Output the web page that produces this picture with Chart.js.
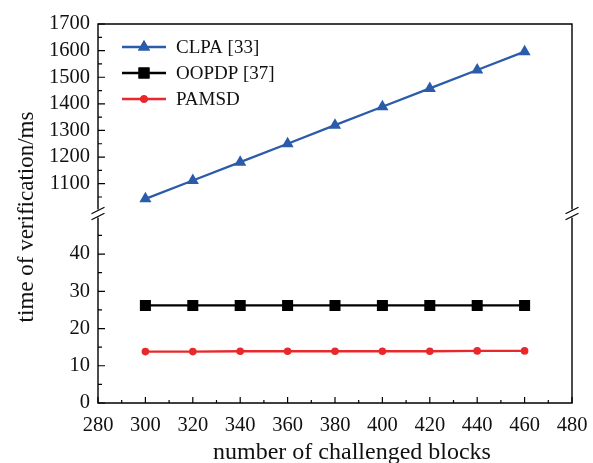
<!DOCTYPE html>
<html>
<head>
<meta charset="utf-8">
<script src="https://cdn.jsdelivr.net/npm/chart.js@4/dist/chart.umd.min.js"></script>
<style>
  html, body { margin: 0; padding: 0; background: #fff; }
  #wrap { width: 593px; height: 463px; }
</style>
</head>
<body>
<div id="wrap"><canvas id="c" width="593" height="463"></canvas></div>
<script>
// data
const blocks = [300, 320, 340, 360, 380, 400, 420, 440, 460];
const clpa = [1043, 1112, 1181, 1250, 1320, 1389, 1458, 1527, 1596];
const oopdp = [26.2, 26.2, 26.2, 26.2, 26.2, 26.2, 26.2, 26.2, 26.2];
const pamsd = [13.8, 13.8, 13.9, 13.9, 13.9, 13.9, 13.9, 14.0, 14.0];

const xTicks = [280, 300, 320, 340, 360, 380, 400, 420, 440, 460, 480];
const xMinor = [290, 310, 330, 350, 370, 390, 410, 430, 450, 470];
const topTicks = [1100, 1200, 1300, 1400, 1500, 1600, 1700];
const topMinor = [1050, 1150, 1250, 1350, 1450, 1550, 1650];
const botTicks = [0, 10, 20, 30, 40];
const botMinor = [5, 15, 25, 35, 45];

const FONT = "'Liberation Serif', 'Times New Roman', serif";
const BLUE = "#2b5caa", RED = "#e8282b", BLACK = "#000";

const series = [
  { label: "CLPA [33]", values: clpa, axis: "yTop", color: BLUE, style: "triangle", r: 7 },
  { label: "OOPDP [37]", values: oopdp, axis: "yBot", color: BLACK, style: "rect", r: 7.8 },
  { label: "PAMSD", values: pamsd, axis: "yBot", color: RED, style: "circle", r: 3.8 }
];

const datasets = series.map(s => ({
  label: s.label,
  data: blocks.map((b, i) => ({ x: b, y: s.values[i] })),
  yAxisID: s.axis,
  borderColor: s.color,
  backgroundColor: s.color,
  borderWidth: 2.3,
  pointStyle: s.style,
  pointRadius: s.r,
  pointBorderWidth: 0,
  pointHoverRadius: s.r,
  tension: 0
}));

function setTicks(list) {
  return scale => { scale.ticks = list.map(v => ({ value: v })); };
}

// frame, inward ticks, axis break, legend, axis titles
const decor = {
  id: "decor",
  afterDatasetsDraw(chart) {
    const { ctx, chartArea: a, scales } = chart;
    const xs = scales.x, yt = scales.yTop, yb = scales.yBot;
    const cut = yt.bottom;
    ctx.save();
    ctx.strokeStyle = "#000";
    ctx.lineWidth = 1.4;

    // frame with gaps at the break
    ctx.beginPath();
    ctx.moveTo(a.left, cut - 4); ctx.lineTo(a.left, a.top); ctx.lineTo(a.right, a.top); ctx.lineTo(a.right, cut - 4);
    ctx.moveTo(a.left, cut + 4); ctx.lineTo(a.left, a.bottom); ctx.lineTo(a.right, a.bottom); ctx.lineTo(a.right, cut + 4);
    ctx.stroke();

    // ticks pointing inside
    ctx.lineWidth = 1.2;
    ctx.beginPath();
    const xt = (list, len) => list.forEach(v => {
      const p = xs.getPixelForValue(v);
      ctx.moveTo(p, a.bottom); ctx.lineTo(p, a.bottom - len);
    });
    xt(xTicks, 6); xt(xMinor, 3);
    const yTick = (sc, list, len) => list.forEach(v => {
      const p = sc.getPixelForValue(v);
      ctx.moveTo(a.left, p); ctx.lineTo(a.left + len, p);
    });
    yTick(yt, topTicks, 7); yTick(yt, topMinor, 4);
    yTick(yb, botTicks, 7); yTick(yb, botMinor, 4);
    ctx.stroke();

    // break marks
    ctx.beginPath();
    [a.left, a.right].forEach(x => {
      [-3, 3].forEach(d => {
        ctx.moveTo(x - 6.5, cut + d + 3.2);
        ctx.lineTo(x + 6.5, cut + d - 3.2);
      });
    });
    ctx.stroke();

    // legend
    series.forEach((s, i) => {
      const y = a.top + 23 + i * 26;
      const x0 = a.left + 24, x1 = a.left + 68;
      ctx.strokeStyle = s.color;
      ctx.lineWidth = 2.3;
      ctx.beginPath(); ctx.moveTo(x0, y); ctx.lineTo(x1, y); ctx.stroke();
      ctx.fillStyle = s.color;
      Chart.helpers.drawPoint(ctx, { pointStyle: s.style, radius: s.r, rotation: 0, borderWidth: 0 }, (x0 + x1) / 2, y);
      ctx.fill();
      ctx.fillStyle = "#111";
      ctx.font = "19px " + FONT;
      ctx.textAlign = "left";
      ctx.textBaseline = "middle";
      ctx.fillText(s.label, x1 + 10, y + 1);
    });

    // x axis title
    ctx.fillStyle = "#111";
    ctx.font = "24px " + FONT;
    ctx.textAlign = "center";
    ctx.textBaseline = "alphabetic";
    ctx.fillText("number of challenged blocks", 352, 459);

    // y axis title
    ctx.translate(33, 217);
    ctx.rotate(-Math.PI / 2);
    ctx.font = "23px " + FONT;
    ctx.fillText("time of verification/ms", 0, 0);
    ctx.restore();
  }
};

const tickFont = { family: FONT, size: 20.5 };
const plain = v => String(v);

new Chart(document.getElementById("c"), {
  type: "line",
  data: { datasets },
  options: {
    responsive: false,
    animation: false,
    layout: { padding: { left: 0, right: 21, top: 24, bottom: 0 } },
    plugins: { legend: { display: false }, tooltip: { enabled: false } },
    scales: {
      x: {
        type: "linear",
        min: 280, max: 480,
        afterBuildTicks: setTicks(xTicks),
        afterFit: s => { s.height = 60; s.paddingLeft = 0; s.paddingRight = 0; },
        grid: { display: false, drawTicks: false },
        border: { display: false },
        ticks: { font: tickFont, color: "#111", padding: 10, maxRotation: 0, autoSkip: false, callback: plain }
      },
      yBot: {
        type: "linear",
        position: "left",
        stack: "y",
        stackWeight: 1,
        min: 0, max: 50.9,
        afterBuildTicks: setTicks(botTicks),
        afterFit: s => { s.width = 98; s.paddingTop = 0; s.paddingBottom = 0; },
        grid: { display: false, drawTicks: false },
        border: { display: false },
        ticks: { font: tickFont, color: "#111", padding: 8, autoSkip: false, callback: plain }
      },
      yTop: {
        type: "linear",
        position: "left",
        stack: "y",
        stackWeight: 1,
        min: 988, max: 1700,
        afterBuildTicks: setTicks(topTicks),
        afterFit: s => { s.width = 98; s.paddingTop = 0; s.paddingBottom = 0; },
        grid: { display: false, drawTicks: false },
        border: { display: false },
        ticks: { font: tickFont, color: "#111", padding: 8, autoSkip: false, callback: plain }
      }
    }
  },
  plugins: [decor]
});
</script>
</body>
</html>
